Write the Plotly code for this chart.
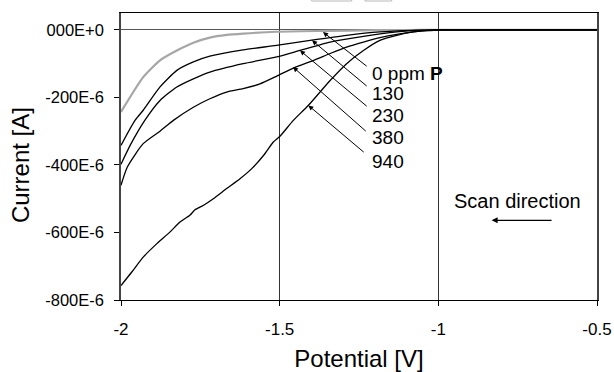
import plotly.graph_objects as go

# Potential [V] and current [µA] for each P concentration
V_0 = [-2.0, -1.93, -1.877, -1.824, -1.772, -1.72, -1.667, -1.615, -1.51, -1.36, -1.2, -1.1, -1.0, -0.5]
I_0 = [-243, -140, -90, -61, -38, -23, -15, -11, -5.5, -3, -1, -0.3, 0, 0]

V_130 = [-2.0, -1.956, -1.93, -1.877, -1.824, -1.772, -1.72, -1.615, -1.51, -1.404, -1.289, -1.184, -1.079, -1.0, -0.5]
I_130 = [-342, -268, -238, -169, -120, -95, -78, -59, -46, -31, -16, -6, -1.5, 0, 0]

V_230 = [-2.0, -1.97, -1.925, -1.877, -1.824, -1.772, -1.72, -1.615, -1.509, -1.436, -1.341, -1.236, -1.131, -1.05, -1.0, -0.5]
I_230 = [-398, -340, -268, -209, -169, -145, -125, -100, -80, -61, -36, -19, -6, -1, 0, 0]

V_380 = [-2.0, -1.98, -1.93, -1.877, -1.835, -1.772, -1.72, -1.667, -1.615, -1.562, -1.509, -1.457, -1.395,
         -1.341, -1.289, -1.236, -1.184, -1.131, -1.079, -1.026, -1.0, -0.5]
I_380 = [-460, -406, -337, -300, -268, -229, -204, -184, -174, -160, -137, -113, -91,
         -70, -51, -36, -23, -13, -6, -1, 0, 0]

V_940 = [-2.0, -1.966, -1.93, -1.887, -1.846, -1.814, -1.783, -1.767, -1.741, -1.709, -1.667, -1.625, -1.588,
         -1.551, -1.52, -1.499, -1.457, -1.41, -1.341, -1.289, -1.236, -1.184, -1.131, -1.079, -1.0, -0.963, -0.5]
I_940 = [-757, -717, -673, -633, -599, -569, -549, -533, -520, -500, -470, -441, -411,
         -372, -332, -315, -268, -224, -150, -100, -61, -31, -16, -6, -0.5, 0, 0]

series_labels = ["0 ppm <b>P</b>", "130", "230", "380", "940"]
y_tickvals = [-800, -600, -400, -200, 0]
y_ticktext = ["-800E-6", "-600E-6", "-400E-6", "-200E-6", "000E+0"]
x_tickvals = [-2, -1.5, -1, -0.5]
x_ticktext = ["-2", "-1.5", "-1", "-0.5"]

FONT = "Arial, Liberation Sans, sans-serif"

fig = go.Figure()
curves = [(V_0, I_0, "#a6a6a6", 2.2), (V_130, I_130, "black", 1.3), (V_230, I_230, "black", 1.3),
          (V_380, I_380, "black", 1.3), (V_940, I_940, "black", 1.3)]
for (vx, iy, col, w), name in zip(curves, series_labels):
    fig.add_trace(go.Scatter(x=vx, y=iy, mode="lines", name=name,
                             line=dict(color=col, width=w, shape="spline", smoothing=0.6),
                             showlegend=False))

# arrows from labels to curves (tip on curve, tail at label)
tips = [(-1.3634, -6.5), (-1.3981, -31), (-1.4359, -61), (-1.4580, -110), (-1.4097, -223.6)]
tails = [(-1.221, -111), (-1.221, -170), (-1.221, -229.6), (-1.2241, -303.6), (-1.2304, -365.8)]
label_y = [-129, -188, -253, -318, -389]
for (tx, ty), (ax, ay), ly, lab in zip(tips, tails, label_y, series_labels):
    fig.add_annotation(x=tx, y=ty, ax=ax, ay=ay, axref="x", ayref="y", xref="x", yref="y",
                       text="", showarrow=True, arrowhead=2, arrowsize=1, arrowwidth=1,
                       arrowcolor="black")
    fig.add_annotation(x=-1.215, y=ly, xref="x", yref="y", text=lab, showarrow=False,
                       xanchor="left", yanchor="middle", font=dict(family=FONT, size=19, color="black"))

# scan direction
fig.add_annotation(x=-0.749, y=-507, xref="x", yref="y", text="Scan direction", showarrow=False,
                   font=dict(family=FONT, size=20, color="black"))
fig.add_annotation(x=-0.832, y=-564, ax=-0.6385, ay=-564, axref="x", ayref="y", xref="x", yref="y",
                   text="", showarrow=True, arrowhead=2, arrowsize=1, arrowwidth=1.2, arrowcolor="black")

# y-axis title as annotation (slightly below plot centre, as in the reference)
fig.add_annotation(x=-0.2122, y=0.47, xref="paper", yref="paper", text="Current [A]", showarrow=False,
                   textangle=-90, xanchor="center", yanchor="middle",
                   font=dict(family=FONT, size=24, color="black"))

# clipped boxes at the very top edge
for x0, x1 in [(0.4006, 0.4847), (0.5126, 0.5687)]:
    fig.add_shape(type="rect", xref="paper", yref="paper", x0=x0, x1=x1, y0=1.0418, y1=1.09,
                  line=dict(color="#b8b8b8", width=1), fillcolor="white", layer="above")

fig.update_layout(
    width=614, height=372,
    margin=dict(l=121, r=17, t=13, b=72),
    plot_bgcolor="white", paper_bgcolor="white",
    font=dict(family=FONT, color="black"),
)
fig.update_xaxes(range=[-2, -0.5], tickvals=x_tickvals, ticktext=x_ticktext, automargin=False,
                 ticks="outside", ticklen=5, tickcolor="black", ticklabelstandoff=9,
                 ticklabeloverflow="allow",
                 tickfont=dict(size=17), showline=True, linecolor="black", linewidth=1, mirror=True,
                 showgrid=True, gridcolor="#333333", gridwidth=1, zeroline=False,
                 title=dict(text="Potential [V]", font=dict(size=24), standoff=11))
fig.update_yaxes(range=[-800, 50], tickvals=y_tickvals, ticktext=y_ticktext, automargin=False,
                 ticks="outside", ticklen=5, tickcolor="black", ticklabelstandoff=7,
                 tickfont=dict(size=16.5), showline=True, linecolor="#444444", linewidth=1.5, mirror=True,
                 showgrid=False, zeroline=True, zerolinecolor="#555555", zerolinewidth=1)

# remove the default 8px page margin so the figure fills the 614x372 window exactly
fig.write_html("out.html", config={"displayModeBar": False},
               post_script="document.body.style.margin='0';document.body.style.overflow='hidden';")
